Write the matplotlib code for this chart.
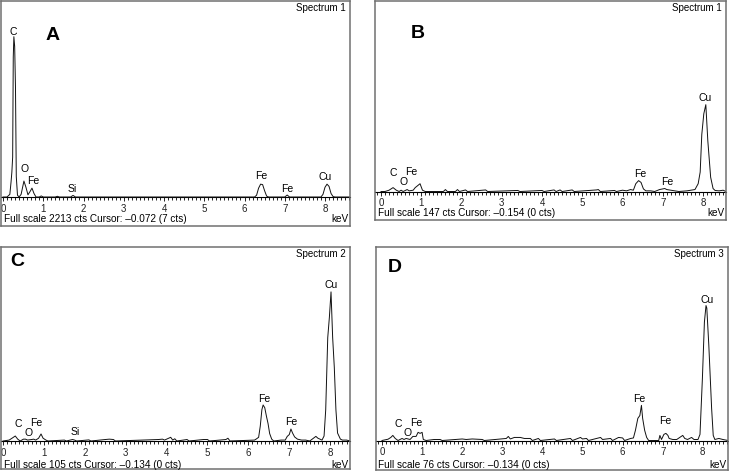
import matplotlib.pyplot as plt
from matplotlib.ticker import MultipleLocator

plt.rcParams['font.family'] = ['Liberation Sans', 'DejaVu Sans']

W, H = 729, 471

# ---- spectrum A (Spectrum 1, full scale 2213 cts) ----
energy_a = [0.00, 0.10, 0.17, 0.20, 0.22, 0.24, 0.255, 0.27, 0.29, 0.31, 0.33, 0.36, 0.40,
            0.45, 0.52, 0.57, 0.62, 0.67, 0.72, 0.77, 0.82, 0.90, 0.95, 1.00, 1.30, 1.35,
            1.40, 1.68, 1.74, 1.80, 6.25, 6.30, 6.35, 6.40, 6.45, 6.50, 6.55, 6.60, 7.00,
            7.06, 7.12, 7.90, 7.95, 8.00, 8.05, 8.10, 8.15, 8.20, 8.25, 8.62]
counts_a = [0, 0, 30, 170, 280, 450, 1580, 1810, 1700, 1240, 230, 20, 0,
            30, 180, 110, 25, 60, 100, 40, 0, 0, 12, 0, 0, 8,
            0, 0, 18, 0, 0, 20, 100, 145, 140, 70, 10, 0, 0,
            22, 0, 0, 30, 110, 145, 120, 40, 5, 0, 0]
labels_a = ['C', 'O', 'Fe', 'Si', 'Fe', 'Fe', 'Cu']
label_e_a = [0.26, 0.53, 0.75, 1.73, 6.41, 7.06, 8.00]
label_c_a = [1866, 316, 180, 90, 240, 87, 222]

# ---- spectrum B (Spectrum 1, full scale 147 cts) ----
energy_b = [0.00, 0.10, 0.20, 0.30, 0.38, 0.45, 0.50, 0.55, 0.65, 0.70, 0.80, 0.85, 0.97,
            1.03, 1.10, 1.55, 1.60, 1.65, 1.85, 1.90, 1.95, 2.10, 2.15, 2.60, 2.65, 3.40,
            3.45, 4.00, 4.05, 4.30, 4.35, 4.45, 4.50, 4.75, 4.80, 5.35, 5.40, 5.45, 5.80,
            5.85, 6.00, 6.10, 6.20, 6.27, 6.33, 6.40, 6.46, 6.52, 6.58, 6.70, 6.80, 6.92,
            7.00, 7.05, 7.10, 7.20, 7.30, 7.40, 7.60, 7.70, 7.80, 7.88, 7.93, 7.97, 8.02,
            8.07, 8.12, 8.19, 8.25, 8.30, 8.40, 8.50, 8.57]
counts_b = [0, 0, 1, 3, 1, 0, 1, 0, 1.5, 0.5, 1, 3, 6,
            1, 0, 0, 1.5, 0, 0, 1.5, 0, 1.2, 0, 1.2, 0, 0.8,
            0, 0.8, 0, 1.2, 0, 1.2, 0, 1.2, 0, 1.2, 1.5, 0, 0.8,
            0, 1, 0.5, 1.5, 1, 6, 8.4, 7, 2, 0.5, 0.5, 0, 1.5,
            2, 2.3, 1.5, 1, 0.5, 0, 0.5, 1, 1.5, 6, 15, 44, 60,
            67, 39, 11, 2.3, 0.8, 0.5, 1, 0]
labels_b = ['C', 'O', 'Fe', 'Fe', 'Fe', 'Cu']
label_e_b = [0.30, 0.56, 0.76, 6.44, 7.10, 8.05]
label_c_b = [14.5, 7, 14.7, 13.4, 7.1, 72.2]

# ---- spectrum C (Spectrum 2, full scale 105 cts) ----
energy_c = [0.00, 0.15, 0.22, 0.30, 0.36, 0.42, 0.50, 0.55, 0.60, 0.70, 0.75, 0.80, 0.87,
            0.93, 0.98, 1.05, 1.10, 1.50, 1.55, 1.70, 1.75, 1.80, 2.10, 2.15, 2.50, 2.60,
            2.70, 2.75, 3.80, 3.90, 3.95, 4.05, 4.10, 4.15, 4.20, 4.25, 4.50, 4.55, 4.90,
            5.00, 5.05, 5.45, 5.50, 5.55, 6.15, 6.20, 6.25, 6.29, 6.33, 6.36, 6.40, 6.44,
            6.48, 6.52, 6.57, 6.62, 6.80, 6.90, 6.95, 7.00, 7.04, 7.08, 7.13, 7.20, 7.30,
            7.40, 7.50, 7.65, 7.70, 7.75, 7.80, 7.85, 7.89, 7.94, 7.98, 8.02, 8.06, 8.10,
            8.14, 8.18, 8.25, 8.30, 8.40, 8.49]
counts_c = [0, 0.5, 1.5, 2.7, 1, 0, 1, 1, 0.5, 0.8, 1, 0.5, 1.5,
            3.8, 1.5, 0.5, 0, 0.5, 0, 0.8, 0.5, 0, 0.6, 0, 0.8, 1,
            0.8, 0, 0.8, 1, 0.5, 1.5, 2, 0.5, 1.2, 0, 0.8, 0, 0.8,
            0.8, 0, 0.8, 1.5, 0, 0.5, 1.2, 2, 8, 17, 19.5, 18, 13.5,
            9.5, 4, 1, 0, 0.5, 0.5, 2.5, 3.5, 6.5, 4.3, 2.2, 1, 0.5,
            0.5, 0, 2.5, 1.5, 1, 0.5, 2.7, 16.8, 56, 67, 80.7, 56, 40,
            16.8, 4.3, 1, 0.5, 0.5, 0]
labels_c = ['C', 'O', 'Fe', 'Si', 'Fe', 'Fe', 'Cu']
label_e_c = [0.37, 0.62, 0.82, 1.76, 6.38, 7.04, 8.02]
label_c_c = [9.2, 4.2, 9.6, 5.0, 23.0, 10.4, 84.4]

# ---- spectrum D (Spectrum 3, full scale 76 cts) ----
energy_d = [0.00, 0.15, 0.22, 0.27, 0.33, 0.40, 0.50, 0.55, 0.60, 0.70, 0.77, 0.85, 0.90,
            0.95, 1.00, 1.03, 1.10, 1.30, 1.45, 1.50, 2.00, 2.10, 2.25, 2.50, 2.55, 3.10,
            3.15, 3.20, 3.30, 3.45, 3.55, 3.70, 3.75, 3.90, 3.95, 4.30, 4.35, 4.70, 4.75,
            4.95, 5.00, 5.10, 5.15, 5.35, 5.45, 5.50, 5.70, 5.75, 5.90, 6.00, 6.05, 6.20,
            6.27, 6.32, 6.38, 6.43, 6.47, 6.50, 6.55, 6.60, 6.65, 6.90, 6.93, 6.97, 7.03,
            7.08, 7.13, 7.16, 7.25, 7.35, 7.50, 7.55, 7.62, 7.72, 7.78, 7.88, 7.93, 7.99,
            8.04, 8.08, 8.10, 8.15, 8.22, 8.26, 8.30, 8.40, 8.50, 8.63]
counts_d = [0, 0.5, 1.2, 2, 0.8, 0, 0.8, 0.4, 0.8, 0.4, 1.6, 1.6, 3.2,
            2.8, 3.2, 0.4, 0, 0.4, 0.4, 0, 0.6, 0.4, 0.6, 0.4, 0, 0.8,
            1.6, 0.6, 1.2, 1.2, 0.8, 0.8, 0, 0.8, 0, 0.6, 0, 0.8, 0,
            1.2, 0.6, 0.8, 0, 0.8, 1.2, 0.4, 0.8, 0, 1.2, 1, 0, 0.8,
            1, 4, 8.7, 9.8, 13.8, 8.7, 4, 1.2, 0, 0, 2, 0.4, 2.4,
            2.8, 2, 0.8, 0.4, 0.4, 2, 0.8, 0.4, 1.2, 0.4, 0.4, 2.4, 24.4,
            46.5, 53, 52, 37.4, 12.6, 2, 0.4, 0.8, 0.4, 0]
labels_d = ['C', 'O', 'Fe', 'Fe', 'Fe', 'Cu']
label_e_d = [0.41, 0.63, 0.86, 6.41, 7.07, 8.10]
label_c_d = [6.3, 3.0, 6.8, 16.4, 7.6, 55.2]

letters = ['A', 'B', 'C', 'D']
spectrum_names = ['Spectrum 1', 'Spectrum 1', 'Spectrum 2', 'Spectrum 3']
full_scale = [2213, 147, 105, 76]
footers = ['Full scale 2213 cts Cursor: \u20130.072 (7 cts)',
           'Full scale 147 cts Cursor: \u20130.154 (0 cts)',
           'Full scale 105 cts Cursor: \u20130.134 (0 cts)',
           'Full scale 76 cts Cursor: \u20130.134 (0 cts)']

# layout in pixels: box (left, top, right, bottom), baseline y, x of 0 keV, px per keV
boxes = [(1, 1, 350, 226), (375, 1, 726, 220), (1, 247, 350, 469), (376, 247, 728, 470)]
baselines = [197, 191.5, 441, 440.5]
zero_px = [3, 381, 3, 382]
px_per_kev = [40.25, 40.25, 40.9, 40.1]
letter_pos = [(53, 35), (418, 33), (17, 262), (395, 267)]
footer_y = [219.5, 213.5, 465, 465]

spectra = [(energy_a, counts_a, labels_a, label_e_a, label_c_a),
           (energy_b, counts_b, labels_b, label_e_b, label_c_b),
           (energy_c, counts_c, labels_c, label_e_c, label_c_c),
           (energy_d, counts_d, labels_d, label_e_d, label_c_d)]

fig = plt.figure(figsize=(W / 100, H / 100), dpi=100)
fig.patch.set_facecolor('white')

for i, (en, ct, labs, lab_e, lab_c) in enumerate(spectra):
    left, top, right, bottom = boxes[i]
    base = baselines[i]
    fs = full_scale[i]
    ax = fig.add_axes([left / W, 1 - bottom / H, (right - left) / W, (bottom - top) / H])

    ax.set_xlim((left - zero_px[i]) / px_per_kev[i], (right - zero_px[i]) / px_per_kev[i])
    ax.set_ylim(-(bottom - base) * fs / (base - top), fs)
    ax.set_xticks([])
    ax.set_yticks([])
    for sp in ax.spines.values():
        sp.set_color('#707070')
        sp.set_linewidth(1.1)

    ax.plot(en, ct, color='#111111', lw=0.7)

    # energy axis sitting on the baseline
    sec = ax.secondary_xaxis((bottom - base) / (bottom - top))
    sec.set_xticks(range(0, 9))
    sec.xaxis.set_minor_locator(MultipleLocator(0.1))
    sec.tick_params(which='major', direction='out', length=3, width=0.7, pad=1.8,
                    labelsize=7, colors='#222222')
    sec.tick_params(which='minor', direction='out', length=1.8, width=0.6)
    sec.spines['bottom'].set_linewidth(0.8)

    for lab, e, c in zip(labs, lab_e, lab_c):
        ax.text(e, c, lab, fontsize=7.5, ha='center', va='center')

    lx, ly = letter_pos[i]
    fig.text(lx / W, 1 - ly / H, letters[i], fontsize=14, fontweight='bold',
             ha='center', va='center')
    fig.text((right - 4) / W, 1 - (top + 7) / H, spectrum_names[i], fontsize=7,
             ha='right', va='center')
    fig.text((left + 2.5) / W, 1 - footer_y[i] / H, footers[i], fontsize=7.2,
             ha='left', va='center')
    fig.text((right - 2) / W, 1 - footer_y[i] / H, 'keV', fontsize=7.2,
             ha='right', va='center')

fig.savefig('out.png', dpi=100, facecolor='white')
